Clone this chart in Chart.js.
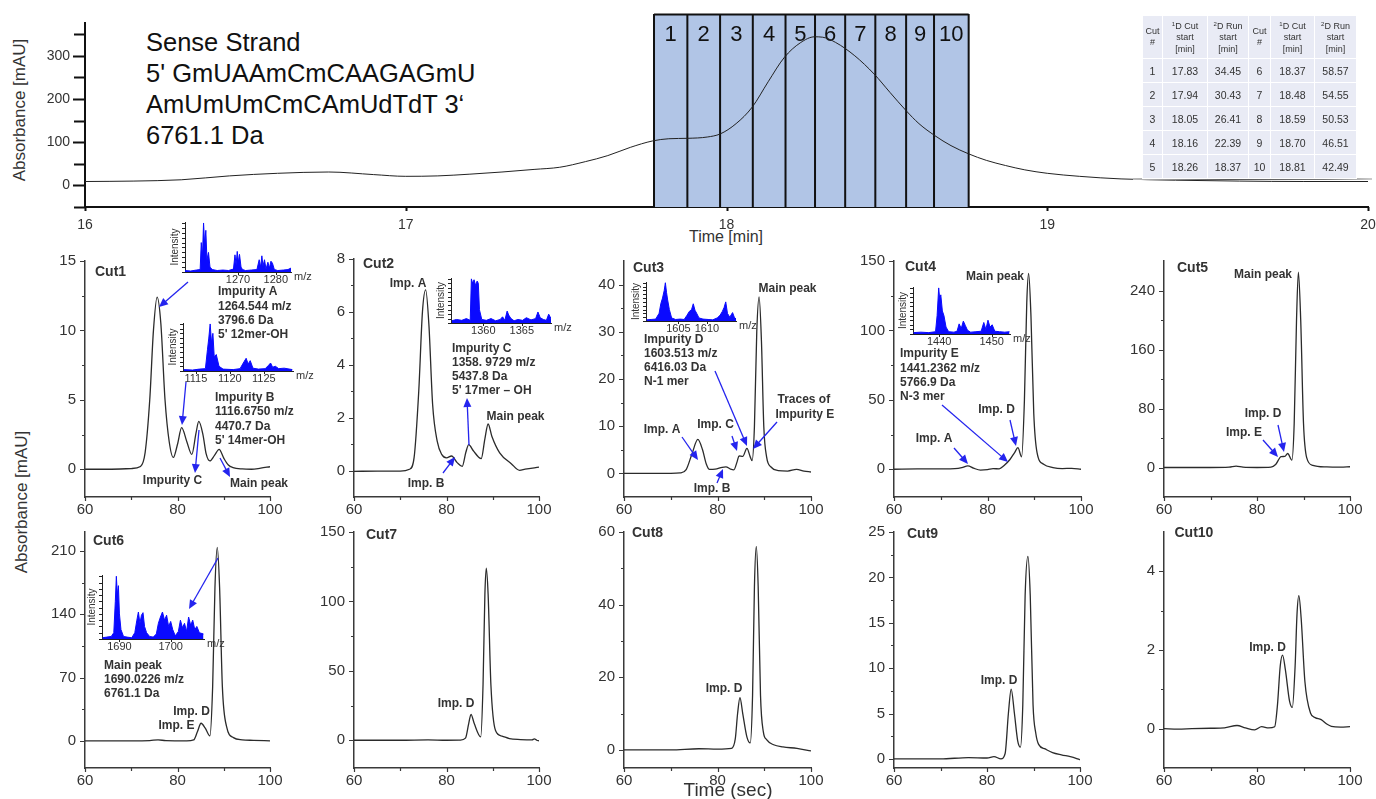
<!DOCTYPE html>
<html>
<head>
<meta charset="utf-8">
<script src="https://cdn.jsdelivr.net/npm/chart.js@4.4.1/dist/chart.umd.min.js"></script>
<style>
  body { margin: 0; background: #fff; }
  #stage { position: relative; width: 1376px; height: 799px; overflow: hidden; font-family: 'Liberation Sans', Arial, sans-serif; color: #222; }
  #stage canvas { position: absolute; }
  .txt { position: absolute; white-space: nowrap; }
  .rot { position: absolute; white-space: nowrap; text-align: center; transform: rotate(-90deg); }
  #cuts { position: absolute; left: 1142px; top: 15px; width: 208px; border-collapse: collapse; table-layout: fixed; z-index: 5; }
  #cuts td, #cuts th { background: #e9ebf5; border: 1.5px solid #fff; text-align: center; color: #333; padding: 0; }
  #cuts th { font-size: 9px; font-weight: normal; line-height: 11.5px; height: 42px; }
  #cuts td { font-size: 10.5px; height: 23px; }
  #cuts sup { font-size: 6px; vertical-align: 3px; }
  #shade { position: absolute; left: 1133px; top: 178px; width: 239px; height: 2px; background: linear-gradient(90deg, #bbb, #555 40%, #777 80%, #ccc); z-index: 4; }
</style>
</head>
<body>
<div id="stage">
  <div class="txt" style="left:146px; top:27px; font-size:25.5px; line-height:31px; color:#111;">Sense Strand<br>5' GmUAAmCmCAAGAGmU<br>AmUmUmCmCAmUdTdT 3‘<br>6761.1 Da</div>
  <div class="rot" style="left:-60px; top:100px; width:160px; font-size:17px; line-height:20px; color:#333;">Absorbance [mAU]</div>
  <div class="txt" style="left:686px; top:228px; width:80px; text-align:center; font-size:16px; line-height:18px; color:#333;">Time [min]</div>
  <div class="rot" style="left:-58px; top:492px; width:160px; font-size:17px; line-height:20px; color:#333;">Absorbance [mAU]</div>
  <div class="txt" style="left:668px; top:779px; width:120px; text-align:center; font-size:19px; line-height:21px; color:#333; z-index:6;">Time (sec)</div>
  <table id="cuts"></table>
  <div id="shade"></div>
</div>
<script>
// first-dimension run (min, mAU)
const topTime = [16.00, 16.15, 16.30, 16.45, 16.60, 16.76, 16.90, 17.00, 17.10, 17.20, 17.30, 17.40, 17.48, 17.56, 17.63, 17.70, 17.77, 17.82, 17.88, 17.94, 17.98, 18.03, 18.08, 18.13, 18.18, 18.23, 18.275, 18.30, 18.34, 18.40, 18.46, 18.51, 18.56, 18.60, 18.65, 18.70, 18.755, 18.81, 18.87, 18.93, 19.00, 19.10, 19.23, 19.40, 19.60, 19.80, 20.00];
const topAbs = [9, 10, 13, 22, 28, 31, 25, 21, 22, 26, 31, 37, 42, 55, 69, 88, 103, 108, 109, 112, 119, 143, 181, 240, 296, 330, 344, 343, 331, 300, 258, 215, 173, 143, 115, 92, 73, 58, 46, 36, 28, 21, 15, 12, 10, 9, 9];

// heart-cut windows drawn on the first dimension (min)
const windowEdges = [17.774, 17.878, 17.980, 18.082, 18.184, 18.276, 18.370, 18.464, 18.560, 18.647, 18.755];
const windowLabels = ['1', '2', '3', '4', '5', '6', '7', '8', '9', '10'];

// cut table
const cutNo = [1, 2, 3, 4, 5, 6, 7, 8, 9, 10];
const cutStart1D = ['17.83', '17.94', '18.05', '18.16', '18.26', '18.37', '18.48', '18.59', '18.70', '18.81'];
const runStart2D = ['34.45', '30.43', '26.41', '22.39', '18.37', '58.57', '54.55', '50.53', '46.51', '42.49'];

// second-dimension runs (sec, mAU)
const cut1Time = [60, 65, 70, 72, 73, 74, 74.8, 75.6, 76.4, 77.3, 78.2, 79.1, 80, 80.9, 82, 83.1, 84, 84.6, 85.5, 86.2, 87, 88, 89, 90, 91, 92, 94, 96, 98, 100];
const cut1Abs = [0, 0, 0.05, 0.2, 1.2, 5, 10, 12.4, 10.5, 5, 2, 0.85, 1.8, 3.0, 2.0, 1.07, 2.6, 3.45, 2.5, 1.1, 0.6, 1.0, 1.43, 0.8, 0.3, 0.12, 0.02, 0.0, 0.08, 0.18];

const cut2Time = [60, 65, 70, 72, 73, 74, 74.8, 75.5, 76.2, 77, 78, 79, 80, 81.1, 82.3, 83.4, 84.2, 84.8, 85.8, 87.5, 88.3, 89, 89.8, 91.5, 94, 95.8, 97, 100];
const cut2Abs = [-0.03, -0.02, -0.02, 0.05, 0.5, 3, 6, 6.83, 5.5, 2.5, 1.1, 0.6, 0.48, 0.55, 0.3, 0.16, 0.7, 0.98, 0.75, 0.45, 1.2, 1.76, 1.3, 0.67, 0.26, 0.01, 0.05, 0.13];

const cut3Time = [60, 70, 72, 73.3, 74.5, 75.8, 76.8, 77.6, 78.3, 79.5, 81, 81.8, 82.8, 83.5, 84.2, 84.6, 85.4, 86.3, 87, 87.4, 87.9, 88.4, 88.9, 89.4, 89.9, 90.5, 91.5, 93, 95, 96.9, 98.5, 100];
const cut3Abs = [0, 0, 0.1, 0.8, 4, 7.2, 5, 2, 0.85, 0.9, 1.3, 1.4, 0.9, 0.75, 2.5, 3.7, 3.6, 5.3, 3.5, 2.7, 10, 30, 37.4, 28, 10, 3.5, 1.3, 0.6, 0.5, 0.85, 0.5, 0.3];

const cut4Time = [60, 65, 70, 73, 74.5, 75.8, 77, 78.5, 80, 81.2, 82.5, 83.5, 84.8, 85.8, 86.5, 87.3, 87.9, 88.4, 88.8, 89.3, 89.9, 90.6, 92, 94, 96, 98, 100];
const cut4Abs = [0, 0.2, 0.3, 0.5, 1.2, 2.4, 0.8, -0.6, -0.3, 0.4, 0.3, 2.5, 7, 12, 15.5, 9, 50, 120, 141, 110, 40, 12, 3.6, 1.2, 0.5, 0.6, 0];

const cut5Time = [60, 70, 74, 75.5, 77, 80, 83, 84, 85.2, 86, 86.6, 87.5, 88, 88.5, 88.9, 89.4, 90, 90.7, 92, 95, 98, 100];
const cut5Abs = [0, 0, 0.5, 2, 0.5, 0, 0.5, 4, 14.8, 15, 19, 10, 60, 200, 265, 200, 60, 13, 3, 0.8, 0.5, 1];

const cut6Time = [60, 70, 74, 75.8, 77.5, 82, 83.5, 84.3, 85.1, 86, 87, 87.6, 88.1, 88.6, 89.1, 89.7, 90.6, 92.1, 94, 96.4, 100];
const cut6Abs = [0, 0, 0.3, 1.2, 0.2, 0, 1, 10, 19.5, 14, 5.5, 60, 170, 214, 170, 60, 16, 3.6, 1.2, 0.6, 0];

const cut7Time = [60, 70, 76, 80, 83, 84.1, 84.8, 85.3, 86, 87.4, 87.9, 88.3, 88.6, 89, 89.6, 90.6, 92, 93.6, 96, 98.5, 99, 99.5, 100];
const cut7Abs = [0, 0, 0.3, 0, 0.1, 1.5, 12, 18.7, 12, 2.4, 40, 105, 124, 105, 40, 7, 3, 1.2, 0.5, 0.2, 1, 0, -0.5];

const cut8Time = [60, 70, 76, 80, 83, 83.8, 84.3, 84.8, 85.4, 86.3, 87, 87.5, 87.9, 88.3, 88.7, 89.2, 89.8, 90.5, 92, 94, 97, 100];
const cut8Abs = [0, 0, 0.3, 0.2, 0.4, 3, 10, 14.4, 10, 3.5, 1.9, 15, 45, 56, 45, 15, 5, 2.8, 1.4, 0.8, 0.4, -0.3];

const cut9Time = [60, 65, 70, 76, 80, 81.5, 83, 83.9, 84.6, 85.2, 85.9, 86.6, 87.2, 87.7, 88.2, 88.8, 89.3, 89.9, 90.5, 91.1, 92.5, 94.1, 96, 97.9, 99, 100];
const cut9Abs = [0, 0, 0, 0.15, 0.1, 0.25, 0, 0.6, 5, 7.7, 5, 2, 1.3, 6, 18, 22.3, 18, 6, 2.8, 1.6, 1.1, 0.7, 0.45, 0.25, 0.1, -0.1];

const cut10Time = [60, 63, 66, 70, 73, 75.7, 77.5, 79.5, 81, 82.5, 83.8, 84.4, 85, 85.5, 86.1, 87, 87.6, 88.2, 88.6, 89, 89.5, 90.3, 91.5, 92.5, 93.8, 95, 96, 98, 100];
const cut10Abs = [0, -0.01, 0, 0.01, 0.02, 0.08, 0.02, -0.03, 0.05, 0.02, 0.05, 0.6, 1.6, 1.87, 1.5, 0.7, 0.54, 1.6, 2.9, 3.38, 2.8, 1.2, 0.4, 0.28, 0.23, 0.12, 0.06, 0.04, 0.05];

// mass spectra (m/z, relative intensity)
const specAmz = [1256, 1257.5, 1259, 1260.0, 1260.3, 1260.6, 1260.9, 1261.2, 1261.5, 1261.8, 1262.2, 1262.6, 1263.2, 1264.5, 1266, 1267.5, 1268.8, 1269.2, 1269.5, 1269.8, 1270.1, 1270.4, 1270.8, 1271.2, 1272, 1273.5, 1275, 1275.6, 1276.0, 1276.3, 1276.6, 1277.0, 1277.4, 1277.9, 1278.3, 1278.7, 1279.1, 1279.6, 1280.5, 1282, 1283.2, 1284];
const specAint = [0.03, 0.02, 0.04, 0.05, 0.6, 0.3, 1.0, 0.55, 0.85, 0.25, 0.4, 0.1, 0.05, 0.03, 0.04, 0.03, 0.06, 0.35, 0.15, 0.42, 0.2, 0.36, 0.1, 0.05, 0.03, 0.04, 0.05, 0.25, 0.1, 0.33, 0.12, 0.25, 0.06, 0.2, 0.08, 0.22, 0.18, 0.05, 0.03, 0.04, 0.05, 0.08];

const specBmz = [1113.2, 1114.5, 1115.5, 1116.4, 1116.7, 1116.9, 1117.1, 1117.3, 1117.5, 1117.7, 1118.0, 1118.4, 1119.0, 1120.5, 1121.5, 1122.1, 1122.4, 1122.7, 1123.0, 1123.4, 1124.2, 1125.2, 1125.7, 1126.0, 1126.3, 1126.7, 1127.2, 1128.0, 1129.2];
const specBint = [0.03, 0.02, 0.04, 0.05, 0.45, 0.7, 1.0, 0.6, 0.8, 0.3, 0.35, 0.1, 0.04, 0.03, 0.05, 0.2, 0.27, 0.15, 0.22, 0.06, 0.04, 0.05, 0.12, 0.17, 0.08, 0.1, 0.05, 0.06, 0.03];

const specCmz = [1355.9, 1356.5, 1357.2, 1357.8, 1358.3, 1358.45, 1358.6, 1358.8, 1359.0, 1359.2, 1359.35, 1359.5, 1359.8, 1360.4, 1361, 1361.6, 1362.2, 1362.5, 1362.8, 1363.1, 1363.3, 1363.6, 1364.0, 1364.5, 1365.1, 1365.6, 1366.2, 1366.8, 1367.1, 1367.4, 1367.8, 1368.2, 1368.5, 1368.8];
const specCint = [0.05, 0.08, 0.06, 0.1, 0.06, 1.0, 0.9, 0.98, 0.85, 0.95, 0.9, 0.3, 0.08, 0.06, 0.1, 0.05, 0.08, 0.14, 0.06, 0.27, 0.18, 0.1, 0.05, 0.08, 0.06, 0.12, 0.07, 0.1, 0.25, 0.12, 0.08, 0.06, 0.2, 0.1];

const specDmz = [1599.4, 1600.2, 1601.0, 1601.6, 1601.9, 1602.2, 1602.5, 1602.7, 1602.9, 1603.1, 1603.4, 1603.8, 1604.5, 1605.3, 1606.0, 1606.5, 1606.9, 1607.3, 1607.6, 1607.9, 1608.2, 1608.6, 1609.3, 1610.2, 1611.0, 1611.8, 1612.3, 1612.7, 1613.0, 1613.3, 1613.6, 1614.0, 1614.5, 1614.8, 1615.1];
const specDint = [0.03, 0.04, 0.05, 0.2, 0.45, 0.6, 0.8, 1.0, 0.75, 0.55, 0.3, 0.08, 0.04, 0.05, 0.04, 0.15, 0.25, 0.3, 0.45, 0.28, 0.2, 0.08, 0.05, 0.04, 0.03, 0.08, 0.15, 0.25, 0.35, 0.5, 0.2, 0.1, 0.22, 0.1, 0.05];

const specEmz = [1435.1, 1436.5, 1438.0, 1439.3, 1439.6, 1439.9, 1440.1, 1440.3, 1440.6, 1440.9, 1441.3, 1441.8, 1442.8, 1443.4, 1443.8, 1444.2, 1444.6, 1445.0, 1445.4, 1446.0, 1447.0, 1448.0, 1448.5, 1448.9, 1449.3, 1449.7, 1450.1, 1450.6, 1451.5, 1452.5, 1453.4];
const specEint = [0.03, 0.04, 0.03, 0.05, 0.4, 1.0, 0.75, 0.85, 0.5, 0.4, 0.15, 0.05, 0.04, 0.06, 0.22, 0.12, 0.28, 0.18, 0.08, 0.04, 0.05, 0.06, 0.25, 0.1, 0.3, 0.15, 0.2, 0.06, 0.05, 0.04, 0.05];

const specFmz = [1686.7, 1687.5, 1688.4, 1688.9, 1689.2, 1689.4, 1689.6, 1689.8, 1690.0, 1690.3, 1690.8, 1691.5, 1692.4, 1693.0, 1693.4, 1693.7, 1694.0, 1694.3, 1694.6, 1694.9, 1695.3, 1695.9, 1696.6, 1697.2, 1697.6, 1698.0, 1698.4, 1698.8, 1699.2, 1699.6, 1700.0, 1700.4, 1700.9, 1701.5, 1701.9, 1702.3, 1702.7, 1703.1, 1703.5, 1703.9, 1704.3, 1704.7, 1705.1, 1705.6, 1706.4];
const specFint = [0.02, 0.03, 0.04, 0.1, 0.6, 1.0, 0.7, 0.85, 0.4, 0.15, 0.04, 0.03, 0.02, 0.1, 0.3, 0.43, 0.25, 0.38, 0.42, 0.2, 0.1, 0.04, 0.03, 0.08, 0.25, 0.35, 0.43, 0.3, 0.38, 0.2, 0.28, 0.15, 0.05, 0.12, 0.3, 0.18, 0.25, 0.12, 0.35, 0.22, 0.3, 0.15, 0.2, 0.1, 0.08];

const SANS = "'Liberation Sans', Arial, sans-serif";
const INK = '#333';
const ARROW = '#2424ee';
const MS_BLUE = '#0a0aff';
Chart.defaults.font.family = SANS;
Chart.defaults.color = INK;

const stage = document.getElementById('stage');

// table
(function () {
  const t = document.getElementById('cuts');
  const head = '<th style="width:19px">Cut<br>#</th><th style="width:44px"><sup>1</sup>D Cut<br>start<br>[min]</th><th style="width:40px"><sup>2</sup>D Run<br>start<br>[min]</th>';
  let html = '<tr>' + head + head.replace('width:19px', 'width:21px').replace('width:44px', 'width:43px').replace('width:40px', 'width:41px') + '</tr>';
  for (let i = 0; i < 5; i++) {
    html += `<tr><td>${cutNo[i]}</td><td>${cutStart1D[i]}</td><td>${runStart2D[i]}</td>` +
            `<td>${cutNo[i + 5]}</td><td>${cutStart1D[i + 5]}</td><td>${runStart2D[i + 5]}</td></tr>`;
  }
  t.innerHTML = html;
})();

// canvas sized so that the plot area lands on `plot` (page px)
function makeCanvas(plot, pad) {
  const c = document.createElement('canvas');
  c.width = plot.x1 - plot.x0 + pad.l + pad.r;
  c.height = plot.y1 - plot.y0 + pad.t + pad.b;
  c.style.left = (plot.x0 - pad.l) + 'px';
  c.style.top = (plot.y0 - pad.t) + 'px';
  stage.appendChild(c);
  return c;
}

function arrowTo(ctx, x1, y1, x2, y2) {
  const a = Math.atan2(y2 - y1, x2 - x1), L = 9, W = 4;
  ctx.beginPath();
  ctx.moveTo(x1, y1);
  ctx.lineTo(x2 - Math.cos(a) * L * 0.7, y2 - Math.sin(a) * L * 0.7);
  ctx.stroke();
  ctx.beginPath();
  ctx.moveTo(x2, y2);
  ctx.lineTo(x2 - L * Math.cos(a) + W * Math.sin(a), y2 - L * Math.sin(a) - W * Math.cos(a));
  ctx.lineTo(x2 - L * Math.cos(a) - W * Math.sin(a), y2 - L * Math.sin(a) + W * Math.cos(a));
  ctx.closePath();
  ctx.fill();
}

// tick marks, labels and arrows (label positions in page px)
function decor(spec) {
  return {
    id: 'decor',
    beforeDatasetsDraw(chart) { if (spec.under) spec.under(chart); },
    afterDraw(chart) {
      const ctx = chart.ctx, a = chart.chartArea, xs = chart.scales.x, ys = chart.scales.y;
      const ox = parseFloat(chart.canvas.style.left), oy = parseFloat(chart.canvas.style.top);
      ctx.save();
      ctx.strokeStyle = spec.tickColor || INK;
      ctx.lineWidth = spec.tickW || 1;
      ctx.beginPath();
      const yt = (vals, len) => vals.forEach(v => {
        const p = Math.round(ys.getPixelForValue(v)) + 0.5;
        ctx.moveTo(a.left, p); ctx.lineTo(a.left - len, p);
      });
      const xt = (vals, len) => vals.forEach(v => {
        const p = Math.round(xs.getPixelForValue(v)) + 0.5;
        ctx.moveTo(p, a.bottom); ctx.lineTo(p, a.bottom + len);
      });
      yt(spec.yMajor || [], spec.yLen || 5);
      yt(spec.yMinor || [], spec.yLenMinor || 3);
      xt(spec.xMajor || [], spec.xLen || 4);
      xt(spec.xMinor || [], spec.xLenMinor || 3);
      ctx.stroke();

      ctx.fillStyle = INK;
      ctx.textBaseline = 'middle';
      (spec.texts || []).forEach(t => {
        ctx.font = `${t.bold === false ? '' : 'bold '}${t.size || 12}px ${SANS}`;
        ctx.textAlign = t.align || 'left';
        if (t.rot) {
          ctx.save();
          ctx.translate(t.x - ox, t.y - oy);
          ctx.rotate(-Math.PI / 2);
          ctx.textAlign = 'center';
          ctx.fillText(t.s, 0, 0);
          ctx.restore();
        } else {
          ctx.fillText(t.s, t.x - ox, t.y - oy);
        }
      });

      ctx.strokeStyle = ARROW;
      ctx.fillStyle = ARROW;
      ctx.lineWidth = 1.3;
      (spec.arrows || []).forEach(r => arrowTo(ctx, r[0] - ox, r[1] - oy, r[2] - ox, r[3] - oy));
      ctx.restore();
    }
  };
}

function buildChart(canvas, pad, dataset, sc, spec) {
  return new Chart(canvas, {
    type: 'line',
    data: { datasets: [dataset] },
    options: {
      responsive: false,
      animation: false,
      events: [],
      layout: { padding: { left: 0, top: pad.t, right: pad.r, bottom: 0 } },
      plugins: { legend: { display: false }, tooltip: { enabled: false } },
      scales: {
        x: {
          type: 'linear', min: sc.xMin, max: sc.xMax,
          grid: { display: false, drawTicks: false },
          border: { color: sc.axisColor || INK, width: sc.axisW || 1.5 },
          afterFit: s => { s.height = pad.b; },
          afterBuildTicks: s => { s.ticks = sc.xTicks.map(v => ({ value: v })); },
          ticks: { padding: sc.xPad, font: { size: sc.font }, color: INK, maxRotation: 0, autoSkip: false, callback: v => String(v) }
        },
        y: {
          type: 'linear', min: sc.yMin, max: sc.yMax,
          grid: { display: false, drawTicks: false },
          border: { color: sc.axisColor || INK, width: sc.axisW || 1.5 },
          afterFit: s => { s.width = pad.l; },
          afterBuildTicks: s => { s.ticks = sc.yTicks.map(v => ({ value: v })); },
          ticks: { display: sc.yLabels !== false, padding: sc.yPad, font: { size: sc.font }, color: INK, autoSkip: false, callback: v => String(v) }
        }
      }
    },
    plugins: [decor(spec)]
  });
}

const pts = (xs, ys) => xs.map((x, i) => ({ x, y: ys[i] }));

// ---------- first dimension ----------
const topPlot = { x0: 85, y0: 22, x1: 1368, y1: 207 };
const topPad = { l: 85, t: 22, r: 20, b: 40 };
buildChart(makeCanvas(topPlot, topPad), topPad,
  { data: pts(topTime, topAbs), borderColor: '#222', borderWidth: 1, pointRadius: 0, tension: 0.4, cubicInterpolationMode: 'monotone' },
  { xMin: 16, xMax: 20, yMin: -50, yMax: 375, xTicks: [16, 17, 18, 19, 20], yTicks: [0, 100, 200, 300],
    xPad: 10, yPad: 15, font: 14, axisColor: '#111', axisW: 2 },
  {
    yMajor: [0, 100, 200, 300], yMinor: [-50, 50, 150, 250, 350], yLen: 12, yLenMinor: 11,
    xMajor: [16, 17, 18, 19, 20], xLen: 4, tickColor: '#111', tickW: 2,
    under(chart) {
      const ctx = chart.ctx, xs = chart.scales.x, a = chart.chartArea;
      const top = 14;
      ctx.save();
      ctx.fillStyle = '#b1c5e6';
      ctx.fillRect(xs.getPixelForValue(windowEdges[0]), top, xs.getPixelForValue(windowEdges[10]) - xs.getPixelForValue(windowEdges[0]), a.bottom - top);
      ctx.strokeStyle = '#111';
      ctx.lineWidth = 2;
      ctx.beginPath();
      windowEdges.forEach(t => { const p = xs.getPixelForValue(t); ctx.moveTo(p, top); ctx.lineTo(p, a.bottom); });
      ctx.moveTo(xs.getPixelForValue(windowEdges[0]), top + 0.5);
      ctx.lineTo(xs.getPixelForValue(windowEdges[10]), top + 0.5);
      ctx.stroke();
      ctx.fillStyle = '#111';
      ctx.font = `22px ${SANS}`;
      ctx.textAlign = 'center';
      ctx.textBaseline = 'middle';
      windowLabels.forEach((s, i) => {
        ctx.fillText(s, (xs.getPixelForValue(windowEdges[i]) + xs.getPixelForValue(windowEdges[i + 1])) / 2, 35);
      });
      ctx.restore();
    }
  });

// ---------- second dimension panels ----------
const panels = [
  { time: cut1Time, abs: cut1Abs, plot: { x0: 85, y0: 261, x1: 270, y1: 497 }, y: [-2, 15], major: [0, 5, 10, 15], minor: [2.5, 7.5, 12.5],
    texts: [
      { s: 'Cut1', x: 95, y: 272, size: 14 },
      { s: 'Impurity A', x: 218, y: 292 }, { s: '1264.544 m/z', x: 218, y: 306.5 }, { s: '3796.6 Da', x: 218, y: 320.5 }, { s: "5' 12mer-OH", x: 218, y: 335 },
      { s: 'Impurity B', x: 215, y: 398 }, { s: '1116.6750 m/z', x: 215, y: 412 }, { s: '4470.7 Da', x: 215, y: 426.5 }, { s: "5' 14mer-OH", x: 215, y: 441 },
      { s: 'Impurity C', x: 172.5, y: 481, align: 'center' },
      { s: 'Main peak', x: 230, y: 483.5 }],
    arrows: [[188, 282, 159, 307], [186, 382, 182, 425], [199, 430, 195, 473], [220, 458, 230, 477]] },
  { time: cut2Time, abs: cut2Abs, plot: { x0: 354, y0: 259, x1: 539, y1: 497 }, y: [-1, 8], major: [0, 2, 4, 6, 8], minor: [1, 3, 5, 7],
    texts: [
      { s: 'Cut2', x: 363, y: 264, size: 14 },
      { s: 'Imp. A', x: 408, y: 283.5, align: 'center' },
      { s: 'Impurity C', x: 452, y: 348.5 }, { s: '1358. 9729 m/z', x: 452, y: 362.5 }, { s: '5437.8 Da', x: 452, y: 376.5 }, { s: "5' 17mer – OH", x: 452, y: 390.5 },
      { s: 'Main peak', x: 486.5, y: 417 },
      { s: 'Imp. B', x: 426, y: 483.5, align: 'center' }],
    arrows: [[443, 473, 455, 457], [469, 445, 467, 398]] },
  { time: cut3Time, abs: cut3Abs, plot: { x0: 624, y0: 261, x1: 811, y1: 497 }, y: [-5, 45], major: [0, 10, 20, 30, 40], minor: [5, 15, 25, 35],
    texts: [
      { s: 'Cut3', x: 633, y: 268.5, size: 14 },
      { s: 'Impurity D', x: 644, y: 339.5 }, { s: '1603.513 m/z', x: 644, y: 353.5 }, { s: '6416.03 Da', x: 644, y: 367.5 }, { s: 'N-1 mer', x: 644, y: 381.5 },
      { s: 'Imp. A', x: 662, y: 429.5, align: 'center' }, { s: 'Imp. C', x: 715.5, y: 425, align: 'center' }, { s: 'Imp. B', x: 712, y: 488.5, align: 'center' },
      { s: 'Main peak', x: 758.5, y: 289 },
      { s: 'Traces of', x: 777.5, y: 400 }, { s: 'Impurity E', x: 775.5, y: 414.5 }],
    arrows: [[682, 437, 698, 460], [717, 483, 723, 469], [732, 436, 737, 451], [715, 371, 747, 446], [777, 422, 753, 449]] },
  { time: cut4Time, abs: cut4Abs, plot: { x0: 894, y0: 261, x1: 1081, y1: 497 }, y: [-20, 150], major: [0, 50, 100, 150], minor: [25, 75, 125],
    texts: [
      { s: 'Cut4', x: 905, y: 267, size: 14 },
      { s: 'Impurity E', x: 900, y: 354 }, { s: '1441.2362 m/z', x: 900, y: 368.5 }, { s: '5766.9 Da', x: 900, y: 382.5 }, { s: 'N-3 mer', x: 900, y: 396.5 },
      { s: 'Imp. D', x: 996.5, y: 410, align: 'center' }, { s: 'Imp. A', x: 934, y: 439, align: 'center' },
      { s: 'Main peak', x: 966, y: 277 }],
    arrows: [[954, 448, 968, 464], [942, 405, 1008, 462], [1010, 420, 1016, 446]] },
  { time: cut5Time, abs: cut5Abs, plot: { x0: 1164, y0: 261, x1: 1350, y1: 497 }, y: [-40, 280], major: [0, 80, 160, 240], minor: [40, 120, 200],
    texts: [
      { s: 'Cut5', x: 1177, y: 268.5, size: 14 },
      { s: 'Main peak', x: 1234, y: 274.5 },
      { s: 'Imp. D', x: 1263, y: 413.5, align: 'center' }, { s: 'Imp. E', x: 1244, y: 433, align: 'center' }],
    arrows: [[1263, 440, 1278, 457], [1278, 425, 1284, 452]] },
  { time: cut6Time, abs: cut6Abs, plot: { x0: 85, y0: 532, x1: 270, y1: 768 }, y: [-30, 231], major: [0, 70, 140, 210], minor: [35, 105, 175],
    texts: [
      { s: 'Cut6', x: 93, y: 541, size: 14 },
      { s: 'Main peak', x: 104, y: 666 }, { s: '1690.0226 m/z', x: 104, y: 680 }, { s: '6761.1 Da', x: 104, y: 694 },
      { s: 'Imp. D', x: 191.5, y: 712, align: 'center' }, { s: 'Imp. E', x: 176.5, y: 726, align: 'center' }],
    arrows: [[218, 558, 189, 609]] },
  { time: cut7Time, abs: cut7Abs, plot: { x0: 354, y0: 532, x1: 539, y1: 768 }, y: [-20, 150], major: [0, 50, 100, 150], minor: [25, 75, 125],
    texts: [{ s: 'Cut7', x: 366, y: 535, size: 14 }, { s: 'Imp. D', x: 456, y: 703.5, align: 'center' }] },
  { time: cut8Time, abs: cut8Abs, plot: { x0: 624, y0: 532, x1: 811, y1: 768 }, y: [-5, 60], major: [0, 20, 40, 60], minor: [10, 30, 50],
    texts: [{ s: 'Cut8', x: 632, y: 533.5, size: 14 }, { s: 'Imp. D', x: 724, y: 688.5, align: 'center' }] },
  { time: cut9Time, abs: cut9Abs, plot: { x0: 894, y0: 532, x1: 1080, y1: 768 }, y: [-1, 25], major: [0, 5, 10, 15, 20, 25], minor: [2.5, 7.5, 12.5, 17.5, 22.5],
    texts: [{ s: 'Cut9', x: 907, y: 534, size: 14 }, { s: 'Imp. D', x: 999, y: 681, align: 'center' }] },
  { time: cut10Time, abs: cut10Abs, plot: { x0: 1164, y0: 532, x1: 1350, y1: 768 }, y: [-1, 5], major: [0, 2, 4], minor: [1, 3],
    texts: [{ s: 'Cut10', x: 1174.5, y: 533.5, size: 14 }, { s: 'Imp. D', x: 1267.5, y: 648, align: 'center' }] }
];

panels.forEach(p => {
  const pad = { l: 60, t: 30, r: 45, b: 30 };
  buildChart(makeCanvas(p.plot, pad), pad,
    { data: pts(p.time, p.abs), borderColor: '#2b2b2b', borderWidth: 1.3, pointRadius: 0, tension: 0.4, cubicInterpolationMode: 'monotone' },
    { xMin: 60, xMax: 100, yMin: p.y[0], yMax: p.y[1], xTicks: [60, 80, 100], yTicks: p.major, xPad: 4, yPad: 9, font: 15, axisColor: '#3a3a3a', axisW: 1.5 },
    { yMajor: p.major, yMinor: p.minor, yLen: 5, yLenMinor: 3, xMajor: [60, 80, 100], xMinor: [70, 90], xLen: 4, xLenMinor: 3,
      tickColor: '#3a3a3a', tickW: 1.2, texts: p.texts, arrows: p.arrows });
});

// ---------- mass spectrum insets ----------
const insets = [
  { mz: specAmz, int: specAint, plot: { x0: 185, y0: 222, x1: 291, y1: 272 }, x: [1256, 1284], ticks: [1270, 1280] },
  { mz: specBmz, int: specBint, plot: { x0: 183, y0: 323, x1: 293, y1: 371 }, x: [1113.1, 1129.3], ticks: [1115, 1120, 1125] },
  { mz: specCmz, int: specCint, plot: { x0: 451, y0: 278, x1: 551, y1: 323 }, x: [1355.8, 1368.8], ticks: [1360, 1365] },
  { mz: specDmz, int: specDint, plot: { x0: 646, y0: 282, x1: 736, y1: 321 }, x: [1599.3, 1615.1], ticks: [1605, 1610] },
  { mz: specEmz, int: specEint, plot: { x0: 913, y0: 287, x1: 1010, y1: 334 }, x: [1435.0, 1453.5], ticks: [1440, 1450] },
  { mz: specFmz, int: specFint, plot: { x0: 102, y0: 575, x1: 204, y1: 639 }, x: [1686.6, 1706.5], ticks: [1690, 1700] }
];
const intensityTicks = [0, 0.1, 0.2, 0.3, 0.4, 0.5, 0.6, 0.7, 0.8, 0.9, 1.0];

insets.forEach(m => {
  const pad = { l: 20, t: 4, r: 30, b: 16 };
  const P = m.plot;
  buildChart(makeCanvas(P, pad), pad,
    { data: pts(m.mz, m.int), borderColor: MS_BLUE, backgroundColor: MS_BLUE, borderWidth: 1, pointRadius: 0, tension: 0, fill: 'origin' },
    { xMin: m.x[0], xMax: m.x[1], yMin: 0, yMax: 1.02, xTicks: m.ticks, yTicks: [], yLabels: false, xPad: 1, yPad: 0, font: 11, axisColor: '#222', axisW: 1 },
    { yMinor: intensityTicks, yLenMinor: 3, xMajor: m.ticks, xLen: 3, tickColor: '#222', tickW: 1,
      texts: [
        { s: 'Intensity', x: P.x0 - 10, y: (P.y0 + P.y1) / 2, rot: true, bold: false, size: 10 },
        { s: 'm/z', x: P.x1 + 3, y: P.y1 + 5, bold: false, size: 11 }
      ] });
});
</script>
</body>
</html>
